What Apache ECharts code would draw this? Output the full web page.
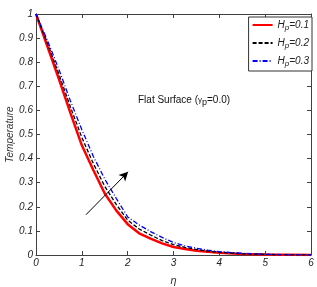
<!DOCTYPE html>
<html><head><meta charset="utf-8">
<script src="https://cdn.jsdelivr.net/npm/echarts@6/dist/echarts.min.js"></script>
<style>html,body{margin:0;padding:0;background:#fff}#c{width:317px;height:287px}</style>
</head><body><div id="c"></div>
<script>
const eta = [0,0.25,0.5,0.75,1.0,1.25,1.5,1.75,2.0,2.25,2.5,2.75,3.0,3.25,3.5,3.75,4.0,4.5,5.0,5.5,6.0];
const hp01 = [1,0.865,0.73,0.59,0.455,0.353,0.255,0.185,0.128,0.09,0.068,0.048,0.033,0.025,0.018,0.013,0.009,0.004,0.002,0.001,0];
const hp02 = [1,0.878,0.75,0.615,0.488,0.38,0.285,0.21,0.145,0.108,0.083,0.06,0.043,0.032,0.023,0.016,0.011,0.005,0.0025,0.001,0];
const hp03 = [1,0.89,0.77,0.64,0.52,0.41,0.315,0.235,0.158,0.125,0.097,0.073,0.052,0.038,0.028,0.02,0.014,0.007,0.003,0.001,0];
const seriesNames = ['H_p=0.1','H_p=0.2','H_p=0.3'];
const arrowFrom = [1.09,0.167];
const arrowTo = [2.01,0.345];

const pair = (ys) => eta.map((x,i)=>[x,ys[i]]);
const axisCol = '#404040';
const chart = echarts.init(document.getElementById('c'));
const baseX = {type:'value',min:0,max:6,interval:1,
  axisLine:{show:true,onZero:false,lineStyle:{color:axisCol,width:1}},
  axisTick:{show:true,inside:true,length:4,lineStyle:{color:axisCol}},
  splitLine:{show:false}};
const baseY = {type:'value',min:0,max:1,interval:0.1,
  axisLine:{show:true,onZero:false,lineStyle:{color:axisCol,width:1}},
  axisTick:{show:true,inside:true,length:4,lineStyle:{color:axisCol}},
  splitLine:{show:false}};
const lbl = {fontFamily:'Liberation Sans, Arial, sans-serif',fontStyle:'italic',fontSize:10,color:'#222'};
chart.setOption({
  animation:false,
  grid:{left:36,right:6,top:14,bottom:32,containLabel:false,outerBoundsMode:'none'},
  xAxis:[
    Object.assign({},baseX,{position:'bottom',name:'η',nameLocation:'middle',nameGap:20,nameMoveOverlap:false,
      nameTextStyle:Object.assign({},lbl,{fontSize:11,color:'#333'}),
      axisLabel:Object.assign({},lbl,{margin:3,formatter:v=>String(v)})}),
    Object.assign({},baseX,{position:'top',axisLabel:{show:false}})
  ],
  yAxis:[
    Object.assign({},baseY,{position:'left',name:'Temperature',nameLocation:'middle',nameGap:21,nameMoveOverlap:false,
      nameTextStyle:Object.assign({},lbl,{fontSize:10,color:'#333'}),
      axisLabel:Object.assign({},lbl,{margin:3,formatter:v=>v===0?'0':(v===1?'1':v.toFixed(1))})}),
    Object.assign({},baseY,{position:'right',axisLabel:{show:false}})
  ],
  legend:{
    orient:'vertical',right:5,top:17,
    backgroundColor:'#fff',borderColor:'#333',borderWidth:1,
    padding:[3,3,3,3],itemGap:6,itemWidth:20,itemHeight:10,
    itemStyle:{opacity:0},
    data:seriesNames,
    formatter:(n)=>{const p=n.split('=');return '{i|H}{s|p}{i|='+p[1]+'}';},
    textStyle:{rich:{
      i:{fontFamily:'Liberation Sans, Arial, sans-serif',fontStyle:'italic',fontSize:10,color:'#222'},
      s:{fontFamily:'Liberation Sans, Arial, sans-serif',fontStyle:'italic',fontSize:8,color:'#222',verticalAlign:'bottom',padding:[6,0,0,0]}
    }}
  },
  graphic:[{
    type:'text',left:138,top:95,
    style:{text:'{a|Flat Surface (}{g|γ}{s|p}{a|=0.0)}',
      rich:{
        a:{fontFamily:'Liberation Sans, Arial, sans-serif',fontSize:10,fill:'#111'},
        g:{fontFamily:'Liberation Sans, Arial, sans-serif',fontSize:8,fill:'#111'},
        s:{fontFamily:'Liberation Sans, Arial, sans-serif',fontSize:9,fill:'#111',padding:[6,0,0,0]}
      }}
  }],
  series:[
    {name:seriesNames[0],type:'line',data:pair(hp01),symbol:'none',smooth:false,
      lineStyle:{color:'#ff0000',width:2.5,type:'solid'},itemStyle:{color:'#ff0000'},z:2,
      markLine:{silent:true,symbol:['none','arrow'],symbolSize:[7,9],label:{show:false},
        lineStyle:{color:'#000',width:1,type:'solid'},
        data:[[{coord:arrowFrom},{coord:arrowTo}]]}},
    {name:seriesNames[1],type:'line',data:pair(hp02),symbol:'none',
      lineStyle:{color:'#000000',width:1.3,type:[4,2]},itemStyle:{color:'#000'},z:3},
    {name:seriesNames[2],type:'line',data:pair(hp03),symbol:'none',
      lineStyle:{color:'#0000ff',width:1.3,type:[5,2,1,2]},itemStyle:{color:'#0000ff'},z:4}
  ]
});
</script></body></html>
